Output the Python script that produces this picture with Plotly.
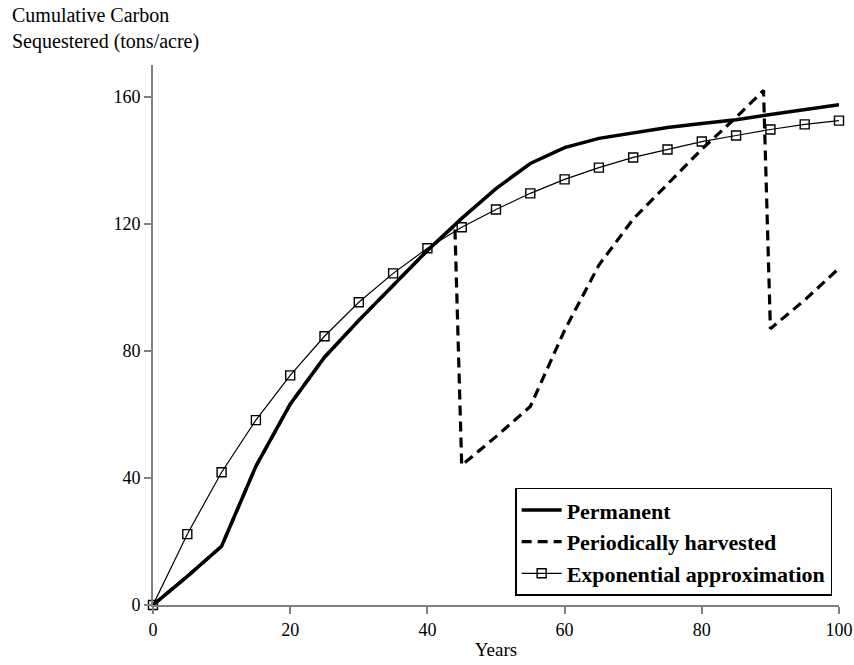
import plotly.graph_objects as go

# Years sampled for each series
years_perm = [0, 5, 10, 15, 20, 25, 30, 35, 40, 45, 50, 55, 60, 65, 70, 75, 80, 85, 90, 95, 100]
carbon_perm = [0, 9, 18.5, 43.7, 63.2, 78, 89.6, 100.6, 111.6, 121.7, 131.1, 139, 144, 146.9,
               148.7, 150.3, 151.6, 152.8, 154.4, 156, 157.5]

years_harv = [0, 5, 10, 15, 20, 25, 30, 35, 40, 44, 45, 50, 55, 60, 65, 70, 75, 80, 85, 89, 90, 95, 100]
carbon_harv = [0, 9, 18.5, 43.7, 63.2, 78, 89.6, 100.6, 111.6, 119.5, 44, 53, 62.5, 86.5, 107,
               121.5, 132.5, 143.5, 153.5, 162, 87, 96, 106]

years_exp = [0, 5, 10, 15, 20, 25, 30, 35, 40, 45, 50, 55, 60, 65, 70, 75, 80, 85, 90, 95, 100]
carbon_exp = [0, 22.3, 41.8, 58.2, 72.3, 84.6, 95.3, 104.4, 112.3, 118.9, 124.5, 129.6, 134.0,
              137.7, 140.9, 143.4, 145.9, 147.8, 149.7, 151.3, 152.5]

x_ticks = [0, 20, 40, 60, 80, 100]
y_ticks = [0, 40, 80, 120, 160]

serif = "Liberation Serif, DejaVu Serif, serif"
axis_grey = "#7f7f7f"

fig = go.Figure()
fig.add_trace(go.Scatter(
    x=years_perm, y=carbon_perm, mode="lines", name="Permanent",
    line=dict(color="black", width=3.5), cliponaxis=False))
fig.add_trace(go.Scatter(
    x=years_harv, y=carbon_harv, mode="lines", name="Periodically harvested",
    line=dict(color="black", width=3.2, dash="10px,6px"), cliponaxis=False))
fig.add_trace(go.Scatter(
    x=years_exp, y=carbon_exp, mode="lines+markers", name="Exponential approximation",
    line=dict(color="black", width=1.2),
    marker=dict(symbol="square-open", size=9, color="black", line=dict(width=1.4)),
    cliponaxis=False))

fig.update_layout(
    width=854, height=665,
    margin=dict(l=153, r=15, t=65, b=60, autoexpand=False),
    plot_bgcolor="white", paper_bgcolor="white",
    font=dict(family=serif, color="black", size=18),
    showlegend=True,
    legend=dict(
        x=0.99, y=0.017, xanchor="right", yanchor="bottom",
        bordercolor="black", borderwidth=1.5, bgcolor="white",
        font=dict(family="Liberation Serif, Times New Roman, serif", size=22, weight="bold"),
        tracegroupgap=0, itemwidth=40,
    ),
    xaxis=dict(
        range=[0, 100], tickvals=x_ticks, ticktext=[str(v) for v in x_ticks],
        showgrid=False, zeroline=False, showline=True, linecolor=axis_grey, linewidth=2,
        ticks="outside", ticklen=7, tickwidth=1.5, tickcolor=axis_grey,
        tickfont=dict(size=18), automargin=False,
        title=dict(text="Years", font=dict(size=19), standoff=4),
    ),
    yaxis=dict(
        range=[0, 170], tickvals=y_ticks, ticktext=[str(v) for v in y_ticks],
        showgrid=False, zeroline=False, showline=True, linecolor=axis_grey, linewidth=2,
        ticks="outside", ticklen=7, tickwidth=1.5, tickcolor=axis_grey,
        tickfont=dict(size=18), automargin=False,
    ),
    annotations=[dict(
        text="Cumulative Carbon<br>Sequestered (tons/acre)",
        xref="paper", yref="paper", x=-143 / 686, y=(605 - 2) / 540,
        xanchor="left", yanchor="top", align="left", showarrow=False,
        font=dict(family=serif, size=20),
    )],
)

fig.write_html("out.html")
